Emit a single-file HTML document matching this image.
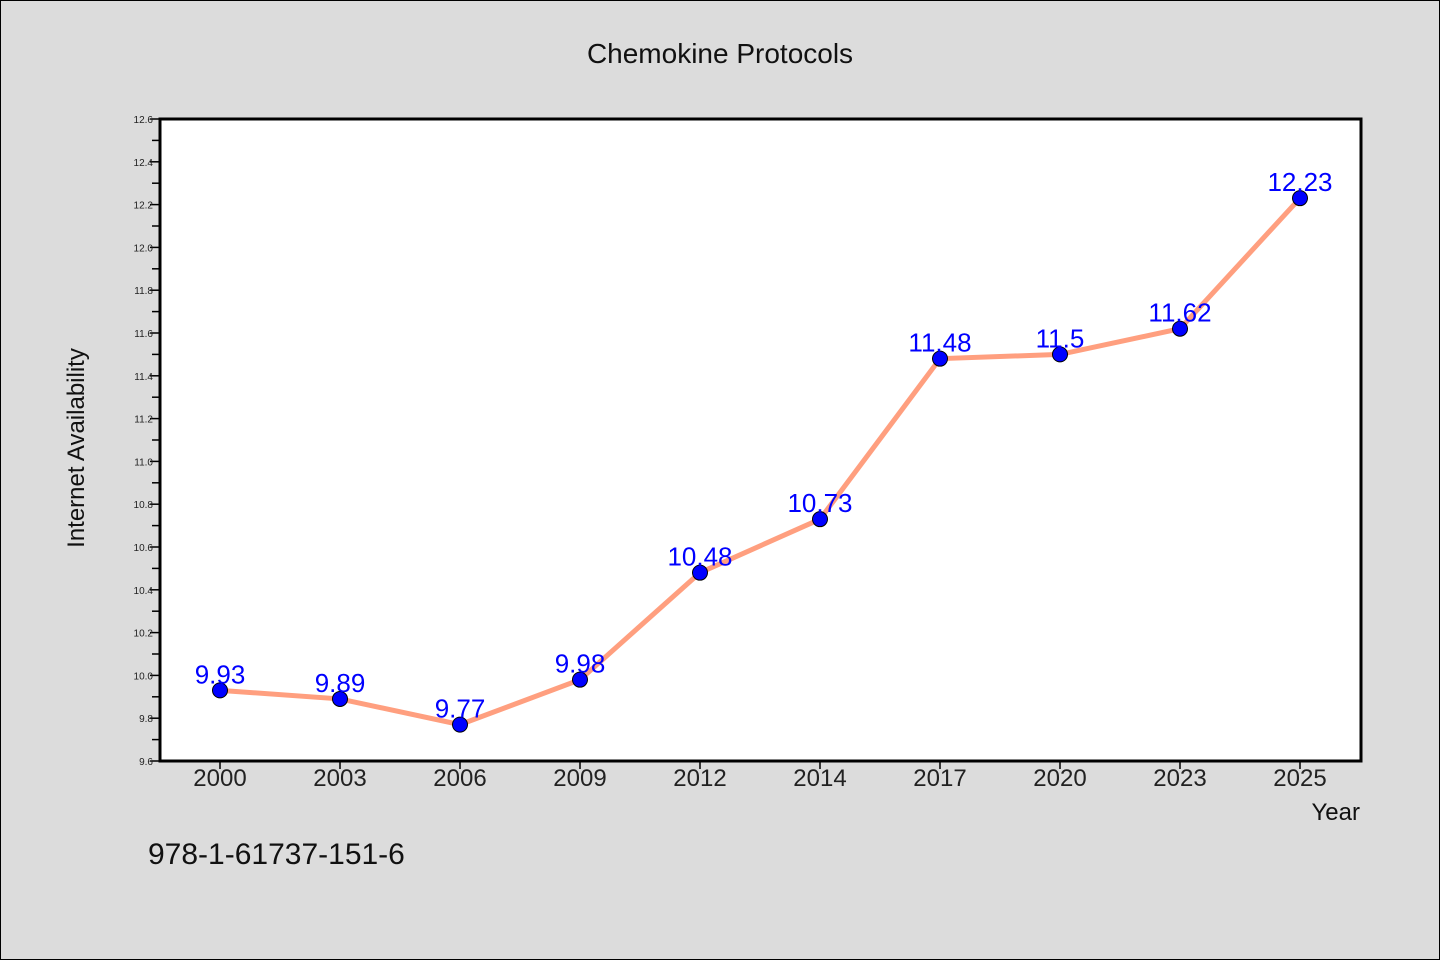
<!DOCTYPE html>
<html><head><meta charset="utf-8"><style>
body{margin:0;background:#dcdcdc;}
svg{display:block;font-family:"WenQuanYi Zen Hei","Liberation Sans",sans-serif;}
</style></head><body>
<svg id="c" width="1440" height="960">
<rect x="0.5" y="0.5" width="1439" height="959" fill="#dcdcdc" stroke="#000"/>
<text x="720" y="63" font-size="28" text-anchor="middle" fill="#111">Chemokine Protocols</text>
<rect x="160" y="119" width="1201" height="642" fill="#fff"/>
<g id="ticks"></g>
<g id="marks"></g>
<rect x="160" y="119" width="1201" height="642" fill="none" stroke="#000" stroke-width="3"/>
<text transform="translate(84,448) rotate(-90)" font-size="24" text-anchor="middle" fill="#111">Internet Availability</text>
<text x="1360" y="820" font-size="24" text-anchor="end" fill="#111">Year</text>
<text x="148" y="864" font-size="30" fill="#111">978-1-61737-151-6</text>
</svg>
<script>
const categories=["2000","2003","2006","2009","2012","2014","2017","2020","2023","2025"];
const values=[9.93,9.89,9.77,9.98,10.48,10.73,11.48,11.5,11.62,12.23];
const valueLabels=["9.93","9.89","9.77","9.98","10.48","10.73","11.48","11.5","11.62","12.23"];
const yTicks=[9.6,9.8,10.0,10.2,10.4,10.6,10.8,11.0,11.2,11.4,11.6,11.8,12.0,12.2,12.4,12.6];
const yMin=9.6,yMax=12.6;
const NS="http://www.w3.org/2000/svg";
const X=i=>220+i*120;
const Y=v=>761-(v-yMin)/(yMax-yMin)*642;
function mk(t,a,p){const e=document.createElementNS(NS,t);for(const k in a)e.setAttribute(k,a[k]);p.appendChild(e);return e;}
const tg=document.getElementById('ticks'),mg=document.getElementById('marks');
for(let v=yMin;v<=yMax+1e-9;v+=0.1){const major=Math.round(v*10)%2===0;
 const l=mk('line',{x1:160,x2:major?150:152,y1:Y(v),y2:Y(v),stroke:'#000','stroke-width':1.5},tg);
 
 }
yTicks.forEach(v=>{const t=mk('text',{x:153,y:Y(v)+4,'font-size':10,'text-anchor':'end',fill:'#222'},tg);t.textContent=v.toFixed(1);
 
 });
categories.forEach((c,i)=>{const l=mk('line',{x1:X(i),x2:X(i),y1:761,y2:769,stroke:'#000','stroke-width':1.5},tg);
 
 
 const t=mk('text',{x:X(i),y:786,'font-size':24,'text-anchor':'middle',fill:'#222'},tg);t.textContent=c;
 
 });
const pl=mk('polyline',{points:values.map((v,i)=>X(i)+','+Y(v)).join(' '),fill:'none',stroke:'#ff9f7f','stroke-width':5},mg);


values.forEach((v,i)=>{const c=mk('circle',{cx:X(i),cy:Y(v),r:7.5,fill:'#0000ff',stroke:'#000','stroke-width':1},mg);
 
 
 const t=mk('text',{x:X(i),y:Y(v)-7,'font-size':26,'text-anchor':'middle',fill:'#0000ff'},mg);t.textContent=valueLabels[i];
 
 });
</script>
</body></html>
